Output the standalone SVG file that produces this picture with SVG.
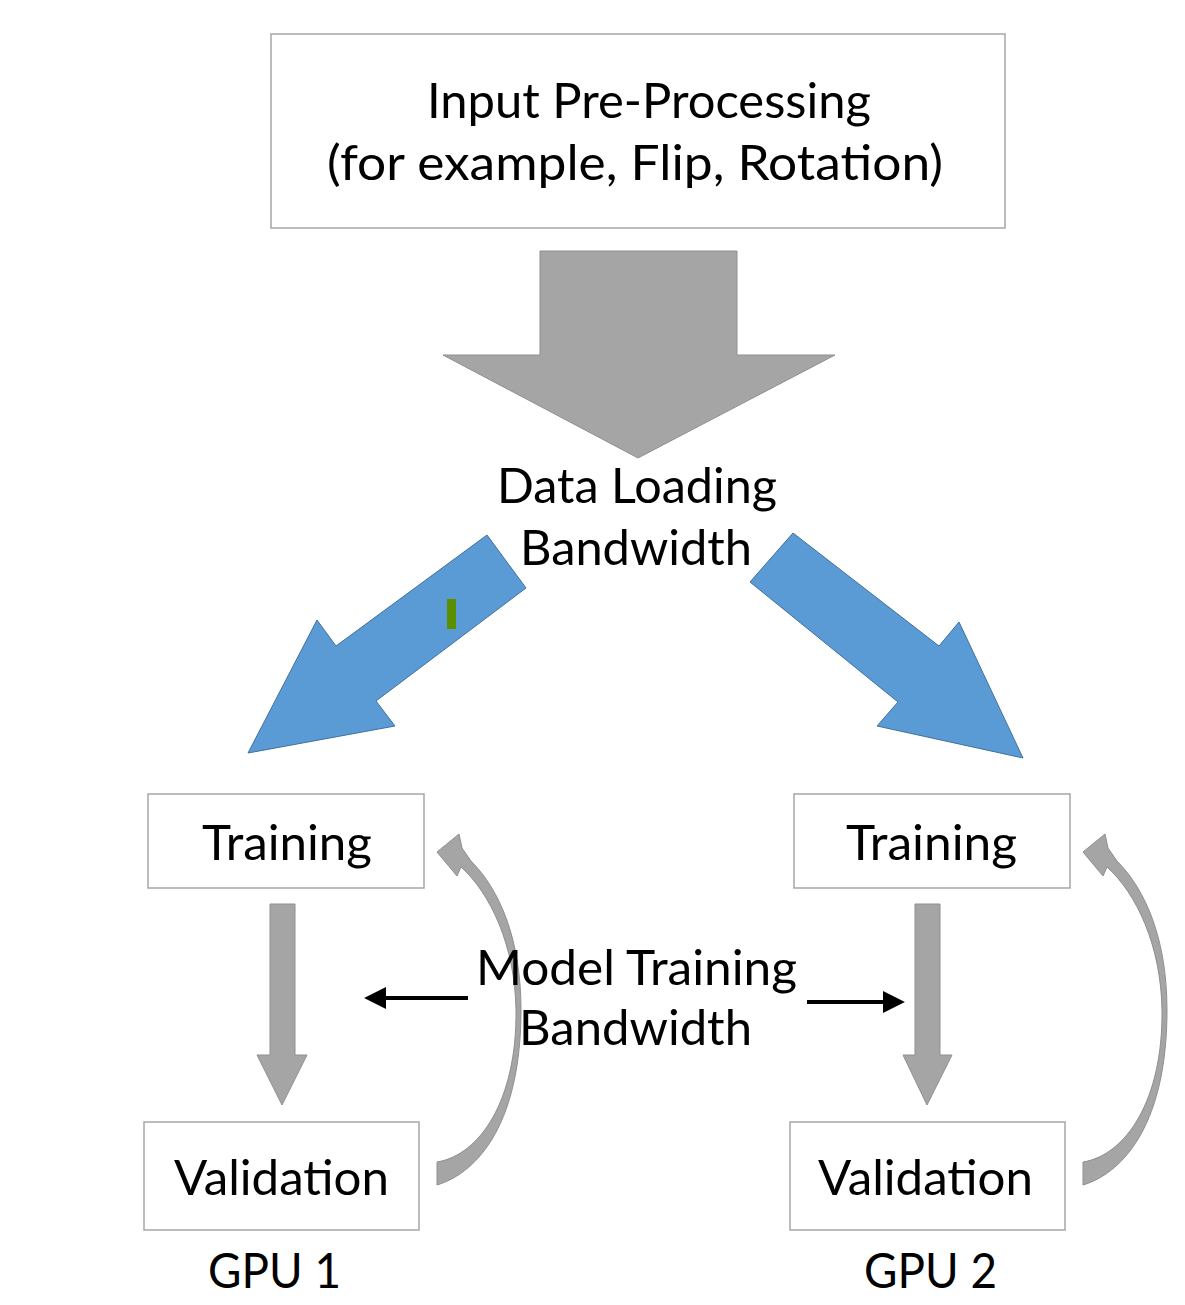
<svg xmlns="http://www.w3.org/2000/svg" width="1185" height="1305" viewBox="0 0 1185 1305">
<style>
.box{fill:#ffffff;stroke:#a6a6a6;stroke-width:1.5}
.t{font-family:Lato,"Open Sans","Liberation Sans",sans-serif;font-size:48px;fill:#000000}
.gray{fill:#a5a5a5;stroke:#8f8f8f;stroke-width:1}
.blue{fill:#5b9bd5;stroke:#41719c;stroke-width:1}
.line{stroke:#000000;stroke-width:4;fill:none}
</style>
<defs>
<marker id="ah" viewBox="0 0 10 10" refX="0.5" refY="5" markerWidth="22" markerHeight="22" orient="auto" markerUnits="userSpaceOnUse">
<path d="M0,0 L10,5 L0,10 z" fill="#000000"/>
</marker>
<path id="curve" d="M437,1185 C480,1172 521,1120 521,1010 C521,940 500,890 471,861 L462,848 L459,834 L437,852 L457,876 L461,867 C490,893 515,945 516,1010 C517,1100 480,1155 437,1162 Z"/>
</defs>
<rect width="1185" height="1305" fill="#ffffff"/>

<g id="connectors">
<polygon class="gray" points="540,251 737,251 737,355 835,355 638,458 443,355 540,355"/>
<polygon class="blue" points="487,535 526,588 376,701 395,726 248,753 317,620 336,646"/>
<rect x="447" y="599" width="9" height="30" fill="#5b8f00"/>
<polygon class="blue" points="793,533 939,646 959,622 1023,758 877,726 898,702 750,582"/>
<polygon class="gray" points="270,904 295,904 295,1055 307,1055 282,1105 257,1055 270,1055"/>
<polygon class="gray" points="915,904 940,904 940,1055 952,1055 927,1105 903,1055 915,1055"/>
<use href="#curve" fill="#a5a5a5" stroke="#8f8f8f"/>
<use href="#curve" transform="translate(646,0)" fill="#a5a5a5" stroke="#8f8f8f"/>
<line class="line" x1="468" y1="998" x2="385" y2="998" marker-end="url(#ah)"/>
<line class="line" x1="807" y1="1002" x2="884" y2="1002" marker-end="url(#ah)"/>
</g>

<g id="preprocessing">
<rect class="box" x="271" y="34" width="734" height="194"/>
<text class="t" x="427" y="118" textLength="444" lengthAdjust="spacingAndGlyphs">Input Pre-Processing</text>
<text class="t" x="327" y="180" textLength="616" lengthAdjust="spacingAndGlyphs">(for example, Flip, Rotation)</text>
</g>

<g id="data-loading">
<text class="t" x="497" y="503" textLength="280" lengthAdjust="spacingAndGlyphs">Data Loading</text>
<text class="t" x="520" y="565" textLength="232" lengthAdjust="spacingAndGlyphs">Bandwidth</text>
</g>

<g id="training1">
<rect class="box" x="148" y="794" width="276" height="94"/>
<text class="t" x="202" y="860" textLength="170" lengthAdjust="spacingAndGlyphs">Training</text>
</g>
<g id="training2">
<rect class="box" x="794" y="794" width="276" height="94"/>
<text class="t" x="846" y="860" textLength="171" lengthAdjust="spacingAndGlyphs">Training</text>
</g>

<g id="validation1">
<rect class="box" x="144" y="1122" width="275" height="108"/>
<text class="t" x="174" y="1195" textLength="215" lengthAdjust="spacingAndGlyphs">Validation</text>
</g>
<g id="validation2">
<rect class="box" x="790" y="1122" width="275" height="108"/>
<text class="t" x="818" y="1195" textLength="215" lengthAdjust="spacingAndGlyphs">Validation</text>
</g>

<g id="model-training">
<text class="t" x="476" y="985" textLength="321" lengthAdjust="spacingAndGlyphs">Model Training</text>
<text class="t" x="519" y="1045" textLength="233" lengthAdjust="spacingAndGlyphs">Bandwidth</text>
</g>

<g id="gpu1"><text class="t" x="208" y="1288" textLength="133" lengthAdjust="spacingAndGlyphs">GPU 1</text></g>
<g id="gpu2"><text class="t" x="864" y="1288" textLength="133" lengthAdjust="spacingAndGlyphs">GPU 2</text></g>
</svg>
